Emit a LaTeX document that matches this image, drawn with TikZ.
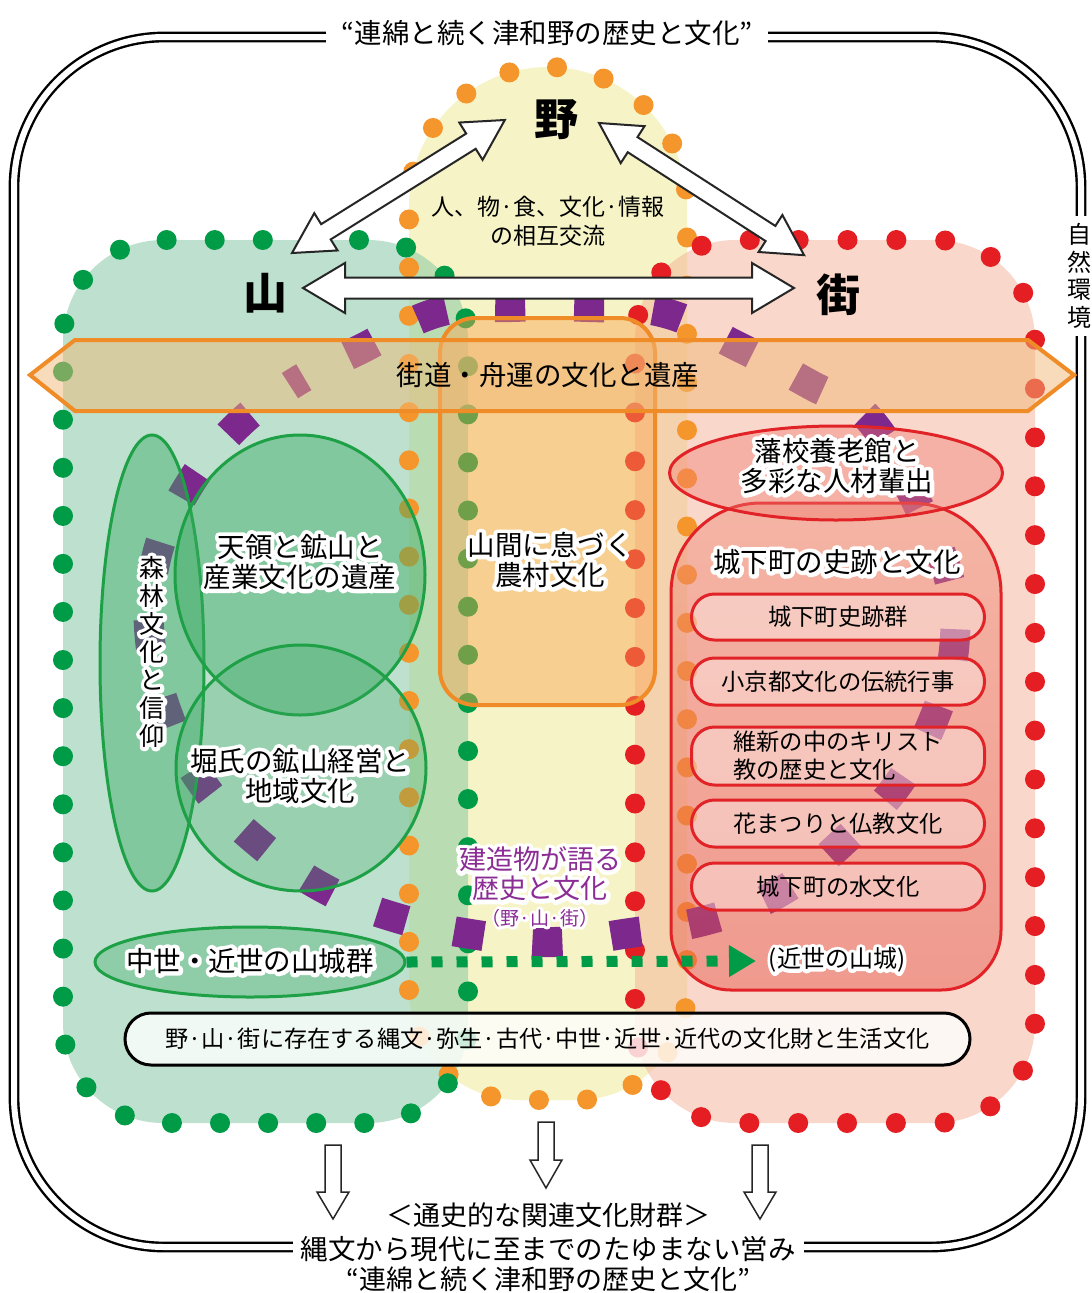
\documentclass[tikz,border=0pt]{standalone}
\usepackage{fontspec}
\setmainfont{Noto Sans CJK JP}
\newfontfamily\halofont[FakeBold=30]{Noto Sans CJK JP}
\usetikzlibrary{shapes.geometric,arrows.meta}
\definecolor{gFill}{RGB}{125,197,159}
\definecolor{yFill}{RGB}{239,235,145}
\definecolor{rFill}{RGB}{245,177,151}
\definecolor{gDot}{RGB}{0,155,70}
\definecolor{oDot}{RGB}{245,150,45}
\definecolor{rDot}{RGB}{228,30,35}
\definecolor{purp}{RGB}{125,40,140}
\definecolor{purpText}{RGB}{140,45,150}
\definecolor{orLine}{RGB}{240,140,40}
\definecolor{orFill}{RGB}{250,165,80}
\definecolor{banFill}{RGB}{240,185,120}
\definecolor{gLine}{RGB}{30,160,70}
\definecolor{gEll}{RGB}{60,170,100}
\definecolor{rLine}{RGB}{225,35,40}
\definecolor{rEll}{RGB}{240,120,110}
\definecolor{rTop}{RGB}{240,140,120}
\definecolor{rBot}{RGB}{230,80,70}
\newcommand\fsz[2]{\fontsize{#1pt}{#2pt}\selectfont}
\let\hf\relax
\newcommand\oq{\makebox[1em][r]{“}}
\newcommand\cq{\makebox[1em][l]{”}}
\newcommand\dblarrow[6]{%
  \begin{scope}[shift={#1}, rotate=#2]
    \draw[hollow] (0,0) -- (#4,#5) -- (#4,#6) -- (#3-#4,#6) -- (#3-#4,#5) -- (#3,0)
      -- (#3-#4,-#5) -- (#3-#4,-#6) -- (#4,-#6) -- (#4,-#5) -- cycle;
  \end{scope}}
\newcommand\dnarrow[4]{%
  \draw[hollow, line width=1.5pt] (#1-8,#2) -- (#1+8,#2) -- (#1+8,#3) -- (#1+16,#3)
    -- (#1,#4) -- (#1-16,#3) -- (#1-8,#3) -- cycle;}
% text with a white halo: #1 style, #2 name, #3 position, #4 text
\newcommand\htxt[4]{%
  {\let\hf\halofont \node[#1, text=white, line join=round, miter limit=1] at #3 {#4};}
  \node[#1] (#2) at #3 {#4};}
\begin{document}
\begin{tikzpicture}[x=1pt,y=-1pt,
  frame/.style={draw=black, line width=2.4pt, double=white, double distance=6pt},
  dotline/.style={line width=20pt, line cap=round},
  hollow/.style={draw=black!85, line width=2pt, fill=white, line join=miter},
  gell/.style={ellipse, draw=gLine, line width=3pt, fill=gEll, inner sep=0pt},
  rring/.style={draw=rLine, line width=3pt},
  pill/.style={rectangle, draw=rLine, line width=3pt, fill=white, fill opacity=0.35,
    text opacity=1, rounded corners=23pt, minimum width=293pt, inner sep=0pt,
    font=\fsz{23.3}{28}, align=center},
  lbl/.style={text=black, align=center, inner sep=1pt},
  big/.style={lbl, font=\fsz{27.5}{30}\hf},
  head/.style={lbl, font=\fsz{44}{44}\bfseries},
]
\useasboundingbox (0,0) rectangle (1092,1293);
\fill[white] (0,0) rectangle (1092,1293);

% outer frame
\draw[frame, rounded corners=150pt] (14,640) -- (14,37) -- (1081,37) -- (1081,1247) -- (14,1247) -- cycle;

% blob fills
\fill[yFill, fill opacity=0.5] (409,640) -- (409,206) arc[start angle=180,end angle=0,radius=139pt]
  -- (687,990) arc[start angle=0,end angle=-90,radius=110pt]
  -- (519,1100) arc[start angle=-90,end angle=-180,radius=110pt] -- cycle;
\fill[gFill, fill opacity=0.5, rounded corners=100pt] (63,640) -- (63,240) -- (468,240) -- (468,1123) -- (63,1123) -- cycle;
\fill[rFill, fill opacity=0.5, rounded corners=100pt] (635,640) -- (635,240) -- (1035,240) -- (1035,1123) -- (635,1123) -- cycle;

% blob dotted borders
\draw[oDot, dotline, dash pattern=on 0pt off 48.17pt, dash phase=13pt] (409,640) -- (409,206) arc[start angle=180,end angle=0,radius=139pt]
  -- (687,990) arc[start angle=0,end angle=-90,radius=110pt]
  -- (519,1100) arc[start angle=-90,end angle=-180,radius=110pt] -- cycle;
\draw[gDot, dotline, dash pattern=on 0pt off 48.09pt, dash phase=24pt, rounded corners=100pt] (63,640) -- (63,240) -- (468,240) -- (468,1123) -- (63,1123) -- cycle;
\draw[rDot, dotline, dash pattern=on 0pt off 48.86pt, dash phase=19pt, rounded corners=100pt] (635,640) -- (635,240) -- (1035,240) -- (1035,1123) -- (635,1123) -- cycle;

% purple loop
\draw[purp, line width=30pt, dash pattern=on 30pt off 49pt, dash phase=15pt] plot[smooth cycle, tension=0.7] coordinates {
  (230,433) (291,385) (359,350) (439,312) (512,307) (588,307) (665,313) (739,347) (811,385)
  (870,420) (919,507) (948,575) (955,637) (940,703) (901,780) (843,842) (780,892) (707,920)
  (630,933) (554,942) (477,935) (397,918) (327,890) (261,845) (207,790) (171,723) (150,640)
  (155,563) (182,497)};

% orange box
\node[draw=orLine, line width=4pt, fill=orFill, fill opacity=0.45, rounded corners=35pt,
  minimum width=215pt, minimum height=387pt, inner sep=0pt] (nouson) at (547.5,511.5) {};

% banner
\draw[draw=orLine, line width=4pt, fill=banFill, fill opacity=0.5, line join=miter]
  (30,375) -- (75,340) -- (1028,340) -- (1074,375) -- (1028,411) -- (75,411) -- cycle;

% green ellipses
\node[gell, fill opacity=0.45, minimum width=104pt, minimum height=456pt] (shinrin) at (152,663) {};
\node[gell, fill opacity=0.45, minimum width=250pt, minimum height=280pt] (tenryo) at (300,575) {};
\node[gell, fill opacity=0.28, minimum width=250pt, minimum height=246pt] (hori) at (301,768) {};
\node[gell, fill opacity=0.35, minimum width=310pt, minimum height=70pt] (sanjo) at (250,962) {};

% red shapes
\draw[rring, top color=rTop, bottom color=rBot, fill opacity=0.45] (671,700) -- (671,593)
  arc[start angle=180,end angle=90,radius=90pt] -- (911,503)
  arc[start angle=90,end angle=0,radius=90pt] -- (1001,930)
  arc[start angle=0,end angle=-90,radius=60pt] -- (731,990)
  arc[start angle=-90,end angle=-180,radius=60pt] -- cycle;
\node[ellipse, rring, fill=rEll, fill opacity=0.4, minimum width=333pt, minimum height=94pt, inner sep=0pt] (hanko) at (836,473) {};
\node[pill, minimum height=46pt] (p1) at (838,617) {城下町史跡群};
\node[pill, minimum height=47pt] (p2) at (838,681.5) {小京都文化の伝統行事};
\node[pill, minimum height=58pt, align=left] (p3) at (838,756) {維新の中のキリスト\\教の歴史と文化};
\node[pill, minimum height=47pt] (p4) at (838,823.5) {花まつりと仏教文化};
\node[pill, minimum height=47pt] (p5) at (838,886.5) {城下町の水文化};

% green dotted arrow
\coordinate (yamajiro) at (756,961);
\draw[gDot, line width=11pt, dash pattern=on 11pt off 14pt, -{Triangle[length=27pt,width=30pt]}] (sanjo.east) -- (yamajiro);

% bottom pill
\node[draw=black, line width=3pt, fill=white, fill opacity=0.8, text opacity=1, rounded corners=26pt,
  minimum width=845pt, minimum height=52pt, font=\fsz{23.2}{24}] (bunkazai) at (547.5,1039)
  {野·山·街に存在する縄文·弥生·古代·中世·近世·近代の文化財と生活文化};

% big exchange arrows
\dblarrow{(303,288)}{0}{491}{42}{25}{10.5}
\dblarrow{(292,253)}{32}{251}{40}{22}{9}
\dblarrow{(599,123)}{-32.8}{244}{40}{22}{9}

% labels
\node[lbl, font=\fsz{27.5}{27.5}, fill=white, inner xsep=1pt, inner ysep=4pt] (title) at (547,33)
  {\oq 連綿と続く津和野の歴史と文化\cq};
\node[head] (no) at (556,120) {野};
\node[head] (yama) at (265,293) {山};
\node[head] (machi) at (838,295) {街};
\node[lbl, font=\fsz{23}{29}] (koryu) at (548,221) {人、物·食、文化·情報\\の相互交流};
\node[lbl, font=\fsz{24}{27.5}, fill=white, inner xsep=2pt, inner ysep=8pt] (shizen) at (1079,276) {自\\然\\環\\境};
\node[big] (kaido) at (548,375) {街道・舟運の文化と遺産};
\htxt{big}{nousonT}{(550,560)}{山間に息づく\\農村文化}
\htxt{big}{tenryoT}{(300,562)}{天領と鉱山と\\産業文化の遺産}
\htxt{lbl, font=\fsz{25}{28}\hf}{shinrinT}{(152,652)}{森\\林\\文\\化\\と\\信\\仰}
\htxt{big}{horiT}{(300,776)}{堀氏の鉱山経営と\\地域文化}
\htxt{big}{sanjoT}{(250,961)}{中世・近世の山城群}
\htxt{big}{hankoT}{(837,466)}{藩校養老館と\\多彩な人材輩出}
\htxt{big}{jokaT}{(837,562)}{城下町の史跡と文化}
\htxt{lbl, font=\fsz{24}{24}\hf}{kinsei}{(837,960)}{(近世の山城)}
\htxt{lbl, text=purpText, font=\fsz{27}{29}\hf}{kenzo}{(540,874)}{建造物が語る\\歴史と文化}
\htxt{lbl, text=purpText, font=\fsz{19}{19}\hf}{kenzo2}{(540,918)}{（野·山·街）}

% bottom
\dnarrow{333}{1145}{1192}{1219}
\dnarrow{546}{1122}{1160}{1188}
\dnarrow{760}{1145}{1192}{1219}
\node[lbl, font=\fsz{27}{27}] (tsushi) at (548,1215) {＜通史的な関連文化財群＞};
\node[lbl, font=\fsz{27.5}{27.5}, fill=white, inner xsep=8pt, inner ysep=2pt] (jomon) at (548,1249) {縄文から現代に至までのたゆまない営み};
\node[lbl, font=\fsz{27}{27}] (title2) at (548,1279) {\oq 連綿と続く津和野の歴史と文化\cq};
\end{tikzpicture}
\end{document}
